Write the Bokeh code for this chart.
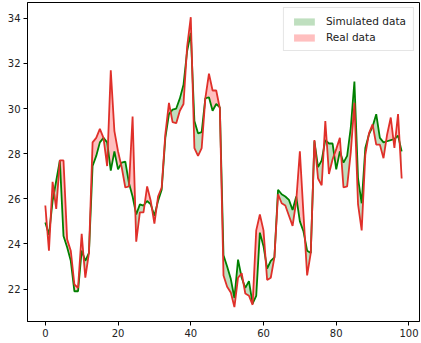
import numpy as np
from bokeh.plotting import figure
from bokeh.models import Legend, LegendItem, FixedTicker, ColumnDataSource
from bokeh.embed import file_html
from bokeh.resources import INLINE

x_values = list(range(99))

real_data = [25.7, 23.7, 26.75, 25.55, 27.7, 27.7, 24.2, 23.7, 22.2, 22.05,
             24.45, 22.5, 23.6, 28.5, 28.7, 29.1, 28.7, 27.45, 31.7, 29.0,
             28.1, 27.4, 26.5, 26.55, 29.65, 24.1, 25.4, 25.4, 26.55, 25.9,
             24.9, 26.1, 26.5, 28.85, 30.25, 29.4, 29.35, 29.9, 30.2, 32.75,
             34.05, 28.25, 27.9, 28.25, 30.45, 31.55, 30.8, 30.8, 30.0, 22.6,
             22.1, 21.85, 21.2, 22.5, 22.7, 21.8, 21.7, 21.3, 24.6, 25.3,
             24.6, 22.4, 22.5, 23.4, 26.2, 25.8, 25.7, 25.25, 24.8, 25.9,
             28.1, 25.3, 22.6, 23.6, 28.6, 26.9, 26.6, 29.45, 27.1, 27.75,
             28.2, 28.7, 26.5, 26.55, 28.05, 30.25, 25.75, 24.6, 27.95, 28.9,
             29.3, 28.4, 28.4, 27.8, 28.85, 29.6, 28.25, 29.75, 26.9]

simulated_data = [24.95, 24.4, 25.9, 26.8, 27.7, 24.35, 23.85, 23.25, 21.9, 21.9,
                  23.7, 23.25, 23.6, 27.45, 27.9, 28.5, 28.7, 28.5, 27.25, 28.1,
                  27.3, 27.6, 27.65, 26.7, 26.1, 25.3, 25.75, 25.7, 25.9, 25.75,
                  25.25, 25.9, 26.4, 28.7, 29.75, 29.95, 30.0, 30.45, 31.05, 32.55,
                  33.35, 29.45, 28.9, 28.95, 30.45, 30.5, 29.9, 30.2, 30.05, 23.5,
                  23.0, 22.45, 21.6, 23.3, 22.5, 22.05, 22.35, 21.35, 21.7, 24.5,
                  23.9, 22.9, 23.25, 23.4, 26.4, 26.2, 26.1, 25.95, 25.5, 26.1,
                  25.0, 24.55, 23.7, 23.6, 28.55, 27.4, 27.7, 28.6, 28.45, 28.45,
                  27.3, 28.1, 27.6, 27.9, 29.15, 31.2, 26.9, 25.8, 28.25, 28.85,
                  29.2, 29.75, 28.7, 28.5, 28.55, 28.6, 28.65, 28.8, 28.1]

x_ticks = [0, 20, 40, 60, 80, 100]
y_ticks = [22, 24, 26, 28, 30, 32, 34]

# refine with crossing points (like fill_between interpolate=True)
xf, sf, rf = [], [], []
for i in range(len(x_values)):
    xf.append(x_values[i]); sf.append(simulated_data[i]); rf.append(real_data[i])
    if i < len(x_values) - 1:
        d0 = simulated_data[i] - real_data[i]
        d1 = simulated_data[i + 1] - real_data[i + 1]
        if d0 * d1 < 0:
            t = d0 / (d0 - d1)
            xc = x_values[i] + t * (x_values[i + 1] - x_values[i])
            yc = simulated_data[i] + t * (simulated_data[i + 1] - simulated_data[i])
            xf.append(xc); sf.append(yc); rf.append(yc)
sf = np.array(sf); rf = np.array(rf)
src = ColumnDataSource(dict(x=xf, s=sf, r=rf, top=np.maximum(sf, rf)))

p = figure(width=421, height=342, x_range=(-4.9, 102.9), y_range=(20.56, 34.7),
           output_backend="svg", toolbar_location=None,
           min_border_left=27, min_border_right=2, min_border_top=2, min_border_bottom=21)

g_area = p.varea(x="x", y1="r", y2="top", source=src, fill_color="green", fill_alpha=0.25)
r_area = p.varea(x="x", y1="s", y2="top", source=src, fill_color="red", fill_alpha=0.25)
p.line(x_values, simulated_data, line_color="green", line_width=1.8)
p.line(x_values, real_data, line_color="#e0302a", line_width=1.8)

p.xgrid.visible = False
p.ygrid.visible = False
p.outline_line_color = "black"
p.outline_line_width = 1
p.outline_line_alpha = 1

for ax in (p.xaxis[0], p.yaxis[0]):
    ax.major_tick_in = 0
    ax.major_tick_out = 4
    ax.minor_tick_out = 0
    ax.minor_tick_in = 0
    ax.axis_line_color = "black"
    ax.major_tick_line_color = "black"
    ax.major_label_text_font = "DejaVu Sans"
    ax.major_label_text_font_size = "10px"
    ax.major_label_text_color = "#222222"
    ax.major_label_standoff = 3
p.xaxis[0].ticker = FixedTicker(ticks=x_ticks)
p.yaxis[0].ticker = FixedTicker(ticks=y_ticks)

legend = Legend(items=[LegendItem(label="Simulated data", renderers=[g_area]),
                       LegendItem(label="Real data", renderers=[r_area])],
                location="top_right", margin=5, padding=7, spacing=4,
                glyph_width=26, glyph_height=9, label_height=12,
                label_standoff=9, label_text_font="DejaVu Sans",
                label_text_font_size="10.5px", label_text_color="#222222",
                border_line_color="#cccccc", border_line_width=1,
                background_fill_alpha=0.8)
p.add_layout(legend)

open("out.html", "w").write(file_html(p, INLINE))
